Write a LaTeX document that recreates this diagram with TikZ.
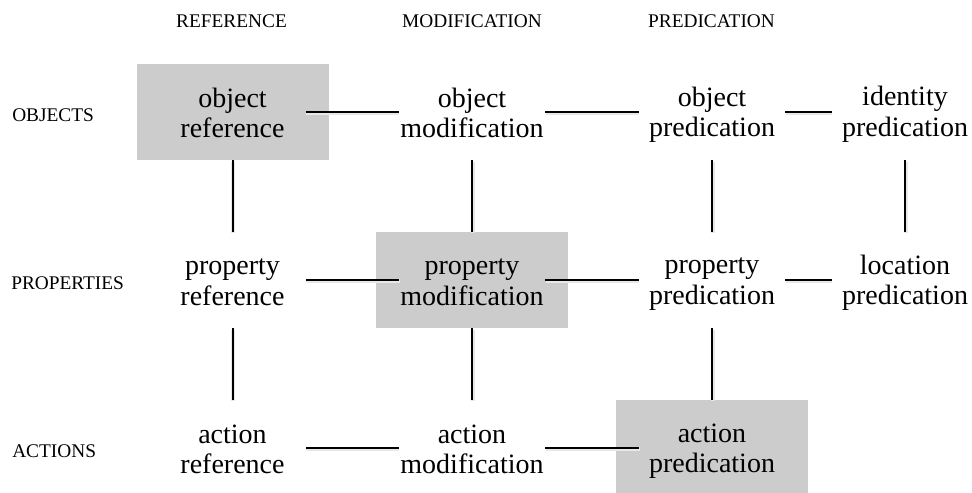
\documentclass[tikz,border=0pt]{standalone}
\usepackage{fontspec}
\setmainfont{Liberation Serif}
\usepackage{tikz}
\definecolor{hlgray}{RGB}{204,204,204}
\newcommand{\lstrut}{\rule[-3pt]{0pt}{21pt}}
\tikzset{
	cell/.style={align=center, inner sep=0pt, minimum width=109.5pt, minimum height=72pt,
		font=\fontsize{21}{22.5}\selectfont},
	hlcell/.style={cell, fill=hlgray, minimum width=144pt, outer xsep=-17.25pt},
	head/.style={anchor=base, inner sep=0pt, font=\fontsize{14.5}{17}\selectfont},
	rowlab/.style={anchor=base west, inner sep=0pt, font=\fontsize{14.5}{17}\selectfont},
	link/.style={line width=1.5pt,
		preaction={draw=black!9, line width=3pt, transform canvas={shift={(0.5pt,-1.1pt)}}}}
}

\begin{document}
\begin{tikzpicture}[x=0.75pt,y=-0.75pt]
		\useasboundingbox (0,0) rectangle (972,493);
		% column and row labels
		\node[head] (hdref) at (231.5,27) {REFERENCE};
		\node[head] (hdmod) at (472,27) {MODIFICATION};
		\node[head] (hdpred) at (711.5,27) {PREDICATION};
		\node[rowlab] (lbobj) at (12,121) {OBJECTS};
		\node[rowlab] (lbprop) at (11,289) {PROPERTIES};
		\node[rowlab] (lbact) at (12,457) {ACTIONS};
		% objects
		\node[hlcell] (objref) at (232.5,112) {\lstrut object\\\lstrut reference};
		\node[cell] (objmod) at (472,112) {\lstrut object\\\lstrut modification};
		\node[cell] (objpred) at (712,112) {\lstrut object\\\lstrut predication};
		\node[cell] (idpred) at (905,112) {\lstrut identity\\\lstrut predication};
		% properties
		\node[cell] (propref) at (232.5,280) {\lstrut property\\\lstrut reference};
		\node[hlcell] (propmod) at (472,280) {\lstrut property\\\lstrut modification};
		\node[cell] (proppred) at (712,280) {\lstrut property\\\lstrut predication};
		\node[cell] (locpred) at (905,280) {\lstrut location\\\lstrut predication};
		% actions
		\node[cell] (actref) at (232.5,448) {\lstrut action\\\lstrut reference};
		\node[cell] (actmod) at (472,448) {\lstrut action\\\lstrut modification};
		\node[hlcell] (actpred) at (712,448) {\lstrut action\\\lstrut predication};
		% links
		\draw[link] (objref) -- (objmod);
		\draw[link] (objmod) -- (objpred);
		\draw[link] (objpred) -- (idpred);
		\draw[link] (propref) -- (propmod);
		\draw[link] (propmod) -- (proppred);
		\draw[link] (proppred) -- (locpred);
		\draw[link] (actref) -- (actmod);
		\draw[link] (actmod) -- (actpred);
		\draw[link] (objref) -- (propref);
		\draw[link] (propref) -- (actref);
		\draw[link] (objmod) -- (propmod);
		\draw[link] (propmod) -- (actmod);
		\draw[link] (objpred) -- (proppred);
		\draw[link] (proppred) -- (actpred);
		\draw[link] (idpred) -- (locpred);
		
		\end{tikzpicture}
\end{document}
